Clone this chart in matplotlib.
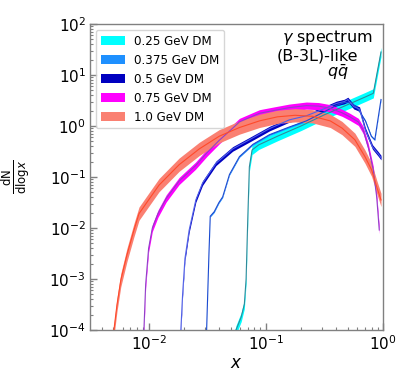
import numpy as np
import matplotlib
matplotlib.use("Agg")
import matplotlib.pyplot as plt

# ---------------- data ----------------
labels = ["0.25 GeV DM", "0.375 GeV DM", "0.5 GeV DM", "0.75 GeV DM", "1.0 GeV DM"]

x_025 = [0.0501, 0.0557, 0.0617, 0.0656, 0.0679, 0.0702, 0.0724, 0.0764, 0.0871,
         0.1259, 0.1995, 0.3162, 0.5012, 0.7079, 0.8260, 0.9616]
y_025 = [4e-5, 1e-4, 1.8e-4, 3.2e-4, 1e-3, 0.0158, 0.158, 0.339, 0.427,
         0.631, 1.0, 1.66, 2.63, 3.72, 4.37, 28.2]

x_0375 = [0.03090, 0.03126, 0.03273, 0.03357, 0.03631, 0.03981, 0.04285, 0.04898,
          0.05957, 0.07762, 0.1076, 0.1585, 0.2218, 0.3162, 0.3981, 0.4677, 0.5248,
          0.6026, 0.7079, 0.7943, 0.8511, 0.9616]
y_0375 = [5e-5, 1e-4, 3.16e-3, 0.0170, 0.0209, 0.0316, 0.0407, 0.112,
          0.251, 0.437, 0.676, 0.955, 1.259, 1.905, 2.512, 2.884, 2.951,
          2.291, 1.259, 0.631, 0.537, 3.31]

x_05 = [0.01862, 0.01884, 0.01950, 0.02042, 0.02218, 0.02529, 0.02884, 0.03758,
        0.05212, 0.07244, 0.1076, 0.1585, 0.2218, 0.3162, 0.3981, 0.4677, 0.5012,
        0.5623, 0.6310, 0.7079, 0.8128, 0.9120, 0.9616]
y_05 = [5e-5, 1e-4, 5e-4, 2.51e-3, 9.1e-3, 0.0355, 0.0759, 0.186,
        0.355, 0.537, 0.891, 1.318, 1.585, 2.188, 2.754, 3.02, 3.31,
        2.40, 2.14, 0.832, 0.389, 0.282, 0.240]

x_075 = [0.00891, 0.00912, 0.00944, 0.0100, 0.01076, 0.01202, 0.01413, 0.01820,
         0.02512, 0.03162, 0.04009, 0.05012, 0.05957, 0.08831, 0.1148, 0.1585,
         0.2218, 0.2818, 0.3516, 0.4467, 0.5212, 0.6166, 0.6776, 0.7482, 0.8260,
         0.8831, 0.9290]
y_075 = [5e-5, 1e-4, 7.9e-4, 3.98e-3, 0.0100, 0.0191, 0.0380, 0.0832,
         0.166, 0.302, 0.525, 0.832, 1.202, 1.778, 1.995, 2.291,
         2.512, 2.455, 2.239, 1.820, 1.514, 1.202, 0.832, 0.389, 0.138,
         0.0407, 0.00912]

x_10 = [0.00490, 0.00506, 0.00537, 0.00579, 0.00653, 0.00750, 0.00828, 0.0100,
        0.01227, 0.01820, 0.02704, 0.04009, 0.05957, 0.08831, 0.1259, 0.1778,
        0.2512, 0.3548, 0.4467, 0.5754, 0.7015, 0.7998, 0.8831, 0.9616]
y_10 = [5e-5, 1e-4, 3.1e-4, 9.5e-4, 2.95e-3, 9.1e-3, 0.0191, 0.0355,
        0.0692, 0.174, 0.355, 0.631, 0.933, 1.26, 1.514, 1.622,
        1.549, 1.259, 0.912, 0.537, 0.251, 0.138, 0.0646, 0.0355]

# band half-widths (in decades)
unc = [0.09, 0.015, 0.045, 0.07, 0.13]

fill_colors = ["#00FFFF", "#1E90FF", "#0000C0", "#FF00FF", "#FA8072"]
line_colors = ["#2f8a9a", "#1a4ad0", "#5060e8", "#9040c8", "#ff4a2a"]

xs = [x_025, x_0375, x_05, x_075, x_10]
ys = [y_025, y_0375, y_05, y_075, y_10]

# ---------------- figure ----------------
fig = plt.figure(figsize=(4.15, 3.88), dpi=100)
ax = fig.add_axes([90 / 415, 58 / 388, 293 / 415, 306 / 388])

handles = []
for i in range(5):
    x = np.array(xs[i])
    y = np.array(ys[i])
    f = 10 ** unc[i]
    h = ax.fill_between(x, y / f, y * f, color=fill_colors[i], lw=0,
                        label=labels[i], zorder=2 + i * 0.1)
    handles.append(h)
for i in range(5):
    ax.plot(xs[i], ys[i], color=line_colors[i], lw=0.8, zorder=3)

ax.set_xscale("log")
ax.set_yscale("log")
ax.set_xlim(10 ** -2.5, 1)
ax.set_ylim(1e-4, 1e2)

for s in ax.spines.values():
    s.set_color("#808080")
    s.set_linewidth(1.0)
ax.tick_params(which="both", direction="in", colors="#808080",
               labelcolor="black", top=False, right=False, pad=3)
ax.tick_params(which="major", length=5, width=1, labelsize=11)
ax.tick_params(which="minor", length=2.5, width=0.8)
ax.yaxis.set_major_locator(matplotlib.ticker.LogLocator(base=10, numticks=10))
ax.yaxis.set_minor_locator(matplotlib.ticker.LogLocator(base=10, subs=np.arange(2, 10), numticks=20))
ax.yaxis.set_minor_formatter(matplotlib.ticker.NullFormatter())
ax.xaxis.set_minor_formatter(matplotlib.ticker.NullFormatter())

ax.set_xlabel(r"$x$", fontsize=12)
ax.xaxis.set_label_coords(0.5, -0.08)
ax.set_ylabel(r"$\frac{\mathrm{dN}}{\mathrm{dlog}x}$", fontsize=12)
ax.yaxis.set_label_coords(-0.198, 0.5)

leg = ax.legend(handles=handles, loc="upper left", fontsize=8.6)

fig.text(281.7 / 415, (388 - 41.7) / 388, r"$\gamma$ spectrum", fontsize=11.5,
         ha="left", va="baseline")
fig.text(276.7 / 415, (388 - 60.7) / 388, "(B-3L)-like", fontsize=11.5,
         ha="left", va="baseline")
fig.text(326.7 / 415, (388 - 77.5) / 388, r"$q\bar{q}$", fontsize=11.5,
         ha="left", va="baseline")

fig.savefig("out.png", dpi=100)
